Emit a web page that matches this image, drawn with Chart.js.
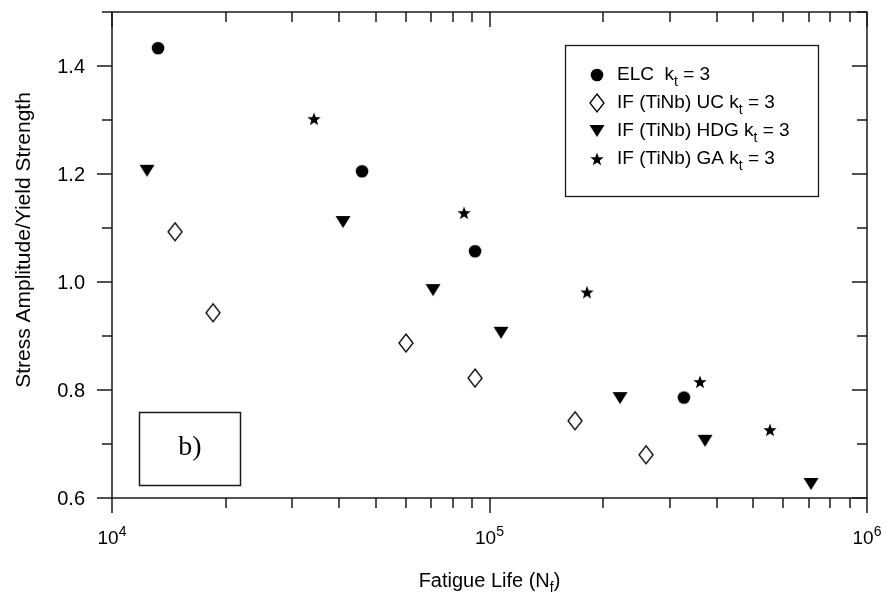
<!DOCTYPE html>
<html>
<head>
<meta charset="utf-8">
<script src="https://cdn.jsdelivr.net/npm/chart.js@4/dist/chart.umd.min.js"></script>
<style>
html,body{margin:0;padding:0;background:#fff}
</style>
</head>
<body>
<canvas id="myChart" width="886" height="601"></canvas>
<script>
// fatigue life (cycles) and stress amplitude / yield strength
var elcLife = [13240, 45950, 91540, 327300];
var elcRatio = [1.433, 1.205, 1.057, 0.786];

var ucLife = [14690, 18520, 60080, 91540, 168500, 259800];
var ucRatio = [1.093, 0.943, 0.887, 0.822, 0.743, 0.680];

var hdgLife = [12380, 40920, 70850, 107300, 221700, 372300, 710800];
var hdgRatio = [1.206, 1.111, 0.985, 0.906, 0.785, 0.706, 0.626];

var gaLife = [34290, 85630, 181300, 361000, 553400];
var gaRatio = [1.302, 1.128, 0.981, 0.815, 0.726];

var seriesNames = ['ELC  k', 'IF (TiNb) UC k', 'IF (TiNb) HDG k', 'IF (TiNb) GA k'];

var xDecades = [1e4, 1e5, 1e6];
var xExponents = ['4', '5', '6'];
var yTicks = [0.6, 0.8, 1.0, 1.2, 1.4];
var yTickLabels = ['0.6', '0.8', '1.0', '1.2', '1.4'];
var yMinor = [0.7, 0.9, 1.1, 1.3, 1.5];

function toPoints(xs, ys) {
    var out = [];
    for (var i = 0; i < xs.length; i++) out.push({x: xs[i], y: ys[i]});
    return out;
}

// marker images so the shapes look like the original plot symbols
function makeMarker(kind) {
    var c = document.createElement('canvas');
    c.width = 22; c.height = 22;
    var g = c.getContext('2d');
    g.fillStyle = '#000';
    g.strokeStyle = '#000';
    g.beginPath();
    if (kind == 'circle') {
        g.arc(11, 11, 6.3, 0, Math.PI * 2);
        g.fill();
    } else if (kind == 'diamond') {
        g.lineWidth = 1.3;
        g.moveTo(11, 2); g.lineTo(18, 11); g.lineTo(11, 20); g.lineTo(4, 11);
        g.closePath();
        g.stroke();
    } else if (kind == 'tri') {
        g.moveTo(3.5, 5); g.lineTo(18.5, 5); g.lineTo(11, 17);
        g.closePath();
        g.fill();
    } else {
        for (var k = 0; k < 10; k++) {
            var r = (k % 2 == 0) ? 7 : 2.9;
            var a = -Math.PI / 2 + k * Math.PI / 5;
            var px = 11 + r * Math.cos(a), py = 11.5 + r * Math.sin(a);
            if (k == 0) g.moveTo(px, py); else g.lineTo(px, py);
        }
        g.closePath();
        g.fill();
    }
    return c;
}
var markers = [makeMarker('circle'), makeMarker('diamond'), makeMarker('tri'), makeMarker('star')];

function drawRich(ctx, x, y, parts, size, align) {
    var total = 0;
    parts.forEach(function (p) {
        ctx.font = (p.s ? Math.round(size * 0.72) : size) + 'px "Liberation Sans", Arial, sans-serif';
        p.w = ctx.measureText(p.t).width;
        total += p.w;
    });
    if (align == 'center') x -= total / 2;
    ctx.textBaseline = 'middle';
    ctx.textAlign = 'left';
    parts.forEach(function (p) {
        ctx.font = (p.s ? Math.round(size * 0.72) : size) + 'px "Liberation Sans", Arial, sans-serif';
        var dy = p.s == 'sub' ? size * 0.35 : (p.s == 'sup' ? -size * 0.38 : 0);
        ctx.fillText(p.t, x, y + dy);
        x += p.w;
    });
}

var frame = {
    id: 'frame',
    afterDraw: function (chart) {
        var ctx = chart.ctx, a = chart.chartArea;
        var xs = chart.scales.x, ys = chart.scales.y;
        ctx.save();
        ctx.strokeStyle = '#1a1a1a';
        ctx.lineWidth = 1.5;
        ctx.strokeRect(a.left, a.top, a.right - a.left, a.bottom - a.top);

        ctx.beginPath();
        // x ticks: bottom outward, top inward
        for (var d = 0; d < xDecades.length; d++) {
            for (var m = 1; m <= 9; m++) {
                if (d == xDecades.length - 1 && m > 1) break;
                var px = Math.round(xs.getPixelForValue(m * xDecades[d]));
                var len = m == 1 ? 15 : 10;
                ctx.moveTo(px, a.bottom); ctx.lineTo(px, a.bottom + len);
                ctx.moveTo(px, a.top); ctx.lineTo(px, a.top + len);
            }
        }
        // y ticks: left outward, right inward
        yTicks.concat(yMinor).forEach(function (v) {
            var py = Math.round(ys.getPixelForValue(v));
            var len = yTicks.indexOf(v) >= 0 ? 15 : 10;
            ctx.moveTo(a.left - len, py); ctx.lineTo(a.left, py);
            ctx.moveTo(a.right - len, py); ctx.lineTo(a.right, py);
        });
        ctx.stroke();

        ctx.fillStyle = '#000';
        // y tick labels
        ctx.font = '20px "Liberation Sans", Arial, sans-serif';
        ctx.textAlign = 'right';
        ctx.textBaseline = 'middle';
        yTicks.forEach(function (v, i) {
            ctx.fillText(yTickLabels[i], a.left - 27, ys.getPixelForValue(v) + 1);
        });
        // x tick labels 10^n
        xDecades.forEach(function (v, i) {
            drawRich(ctx, xs.getPixelForValue(v), a.bottom + 41,
                [{t: '10'}, {t: xExponents[i], s: 'sup'}], 19, 'center');
        });

        // axis titles
        drawRich(ctx, (a.left + a.right) / 2, 581,
            [{t: 'Fatigue Life (N'}, {t: 'f', s: 'sub'}, {t: ')'}], 20, 'center');
        ctx.save();
        ctx.translate(24, 240);
        ctx.rotate(-Math.PI / 2);
        ctx.font = '21px "Liberation Sans", Arial, sans-serif';
        ctx.textAlign = 'center';
        ctx.textBaseline = 'middle';
        ctx.fillText('Stress Amplitude/Yield Strength', 0, 0);
        ctx.restore();

        // legend box
        ctx.lineWidth = 1.3;
        ctx.strokeRect(565.5, 45.5, 253, 151);
        seriesNames.forEach(function (name, i) {
            var ry = 75 + i * 28;
            ctx.drawImage(markers[i], 597 - 11, ry - 11);
            drawRich(ctx, 617, ry, [{t: name}, {t: 't', s: 'sub'}, {t: ' = 3'}], 19, 'left');
        });

        // panel label
        ctx.lineWidth = 1.5;
        ctx.strokeRect(139.5, 412.5, 101, 73);
        ctx.font = '28px "Liberation Serif", "Times New Roman", serif';
        ctx.textAlign = 'center';
        ctx.textBaseline = 'middle';
        ctx.fillText('b)', 190, 448);
        ctx.restore();
    }
};

var ctx = document.getElementById('myChart').getContext('2d');
var myChart = new Chart(ctx, {
    type: 'scatter',
    data: {
        datasets: [
            {label: 'ELC', data: toPoints(elcLife, elcRatio), pointStyle: markers[0]},
            {label: 'IF (TiNb) UC', data: toPoints(ucLife, ucRatio), pointStyle: markers[1]},
            {label: 'IF (TiNb) HDG', data: toPoints(hdgLife, hdgRatio), pointStyle: markers[2]},
            {label: 'IF (TiNb) GA', data: toPoints(gaLife, gaRatio), pointStyle: markers[3]}
        ]
    },
    options: {
        responsive: false,
        animation: false,
        layout: {padding: {left: 112, right: 19, top: 12, bottom: 103}},
        plugins: {legend: {display: false}, tooltip: {enabled: false}},
        scales: {
            x: {type: 'logarithmic', min: 1e4, max: 1e6, display: false},
            y: {type: 'linear', min: 0.6, max: 1.5, display: false}
        }
    },
    plugins: [frame]
});
</script>
</body>
</html>
